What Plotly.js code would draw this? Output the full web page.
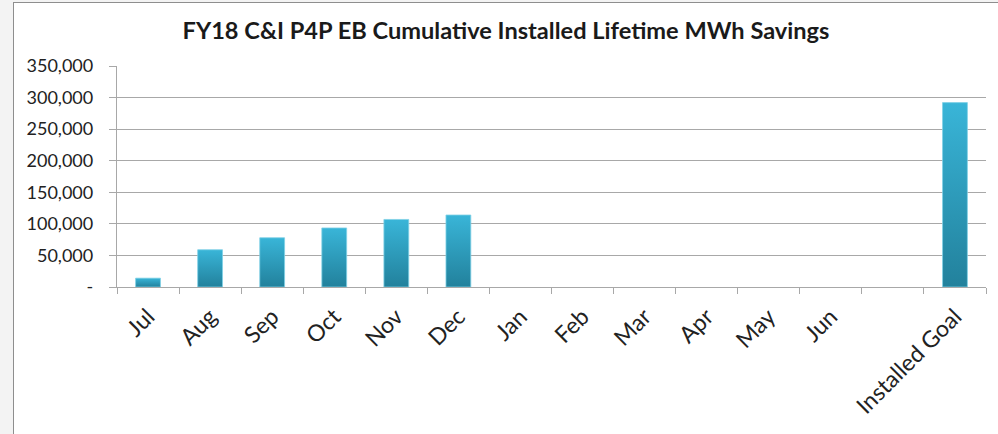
<!DOCTYPE html>
<html>
<head>
<meta charset="utf-8">
<script src="https://cdn.plot.ly/plotly-3.0.1.min.js"></script>
<style>
  html, body { margin: 0; padding: 0; background: #f3f3f3; width: 998px; height: 434px; overflow: hidden; }
  #chart { position: absolute; left: 13px; top: 2px; width: 985px; height: 432px;
           border-left: 1px solid #8e8e8e; border-top: 1px solid #8e8e8e; background: #fff; }
</style>
</head>
<body>
<div id="chart"></div>
<script>
const titleText = "FY18 C&I P4P EB Cumulative Installed Lifetime MWh Savings";
const categories = ["Jul", "Aug", "Sep", "Oct", "Nov", "Dec", "Jan", "Feb", "Mar", "Apr", "May", "Jun", " ", "Installed Goal"];
const savings = [14000, 59000, 78000, 93500, 107000, 114000, null, null, null, null, null, null, null, 292000];
const yTickVals = [0, 50000, 100000, 150000, 200000, 250000, 300000, 350000];
const yTickText = ["-", "50,000", "100,000", "150,000", "200,000", "250,000", "300,000", "350,000"];

const font = "Lato, 'Open Sans', sans-serif";
const grid = "#a8a8a8";

const trace = {
  type: "bar",
  x: categories,
  y: savings,
  width: 0.4,
  marker: { color: "#2e9fc0", line: { color: "#7fd0e6", width: 0.8 } },
  hoverinfo: "x+y"
};

const layout = {
  width: 984, height: 431,
  margin: { l: 103, r: 12, t: 63, b: 147 },
  paper_bgcolor: "#ffffff",
  plot_bgcolor: "#ffffff",
  showlegend: false,
  title: { text: "<b>" + titleText + "</b>", x: 0.5, xanchor: "center", y: 0.935, yanchor: "middle",
           font: { family: font, size: 23.6, color: "#1a1a1a" } },
  xaxis: {
    type: "category",
    tickson: "boundaries",
    ticks: "outside", ticklen: 6, tickcolor: grid, tickwidth: 1.3,
    showline: true, linecolor: grid, linewidth: 1.3,
    showgrid: false,
    tickangle: -45,
    ticklabelstandoff: 6,
    tickfont: { family: font, size: 23, color: "#222" },
    fixedrange: true
  },
  yaxis: {
    range: [0, 350000],
    tickvals: yTickVals, ticktext: yTickText,
    ticks: "outside", ticklen: 7, tickcolor: grid, tickwidth: 1.3,
    showline: true, linecolor: grid, linewidth: 1.3,
    showgrid: true, gridcolor: grid, gridwidth: 1.3,
    zeroline: false,
    ticklabelstandoff: 12,
    tickfont: { family: font, size: 18, color: "#222" },
    fixedrange: true
  },
  bargap: 0.6
};

function applyGradient(gd) {
  const svg = gd.querySelector("svg.main-svg");
  if (!svg) return;
  const ns = "http://www.w3.org/2000/svg";
  let defs = svg.querySelector("defs");
  if (!defs) { defs = document.createElementNS(ns, "defs"); svg.insertBefore(defs, svg.firstChild); }
  if (!svg.querySelector("#barGrad")) {
    const lg = document.createElementNS(ns, "linearGradient");
    lg.setAttribute("id", "barGrad");
    lg.setAttribute("x1", "0"); lg.setAttribute("y1", "0");
    lg.setAttribute("x2", "0"); lg.setAttribute("y2", "1");
    const s1 = document.createElementNS(ns, "stop");
    s1.setAttribute("offset", "0"); s1.setAttribute("stop-color", "#39b5d8");
    const s2 = document.createElementNS(ns, "stop");
    s2.setAttribute("offset", "1"); s2.setAttribute("stop-color", "#22819c");
    lg.appendChild(s1); lg.appendChild(s2);
    defs.appendChild(lg);
  }
  gd.querySelectorAll(".bars .point path").forEach(p => {
    p.style.fill = "url(#barGrad)";
  });
}

Plotly.newPlot("chart", [trace], layout, { displayModeBar: false, responsive: false }).then(gd => {
  applyGradient(gd);
  gd.on("plotly_afterplot", () => applyGradient(gd));
});
</script>
</body>
</html>
